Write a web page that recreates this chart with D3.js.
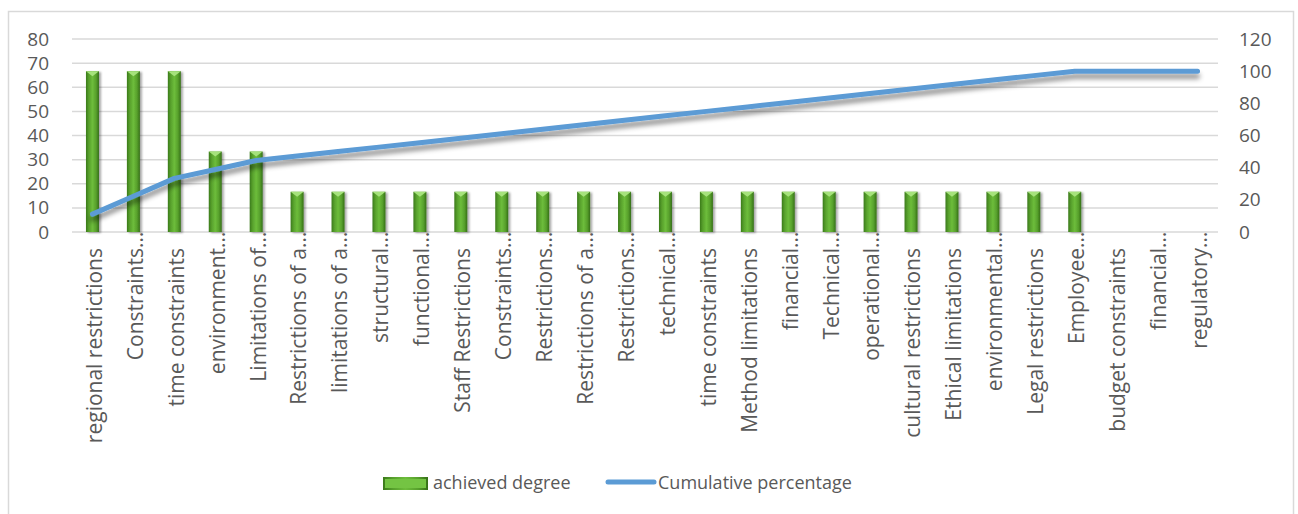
<!DOCTYPE html>
<html>
<head>
<meta charset="utf-8">
<script src="https://cdnjs.cloudflare.com/ajax/libs/d3/7.8.5/d3.min.js"></script>
<style>
  body { margin: 0; background: #ffffff; }
  svg text { font-family: "Open Sans", "DejaVu Sans", sans-serif; fill: #595959; }
</style>
</head>
<body>
<div id="chart"></div>
<script>
// categories as they appear on the axis (Excel cut the long ones with "…")
var categories = [
  "regional restrictions", "Constraints…", "time constraints", "environment…",
  "Limitations of…", "Restrictions of a…", "limitations of a…", "structural…",
  "functional…", "Staff Restrictions", "Constraints…", "Restrictions…",
  "Restrictions of a…", "Restrictions…", "technical…", "time constraints",
  "Method limitations", "financial…", "Technical…", "operational…",
  "cultural restrictions", "Ethical limitations", "environmental…",
  "Legal restrictions", "Employee…", "budget constraints", "financial…",
  "regulatory…"
];
var achieved = [
  66.67, 66.67, 66.67, 33.33, 33.33, 16.67, 16.67, 16.67, 16.67, 16.67,
  16.67, 16.67, 16.67, 16.67, 16.67, 16.67, 16.67, 16.67, 16.67, 16.67,
  16.67, 16.67, 16.67, 16.67, 16.67, 0, 0, 0
];
var cumulative = [
  11.11, 22.22, 33.33, 38.89, 44.44, 47.22, 50.00, 52.78, 55.56, 58.33,
  61.11, 63.89, 66.67, 69.44, 72.22, 75.00, 77.78, 80.56, 83.33, 86.11,
  88.89, 91.67, 94.44, 97.22, 100, 100, 100, 100
];
var leftTicks = [0, 10, 20, 30, 40, 50, 60, 70, 80];
var rightTicks = [0, 20, 40, 60, 80, 100, 120];
var seriesNames = ["achieved degree", "Cumulative percentage"];

var W = 1298, H = 514;
var plot = { left: 72, right: 1218, top: 39, bottom: 232 };

var svg = d3.select("#chart").append("svg")
    .attr("width", W).attr("height", H);

var defs = svg.append("defs");
var g1 = defs.append("linearGradient").attr("id", "barGrad")
    .attr("x1", "0%").attr("x2", "100%").attr("y1", "0%").attr("y2", "0%");
[["0%", "#3b7a1b"], ["22%", "#57a02c"], ["50%", "#6dbd3b"], ["78%", "#57a02c"], ["100%", "#356f17"]]
  .forEach(function (s) { g1.append("stop").attr("offset", s[0]).attr("stop-color", s[1]); });

var fBar = defs.append("filter").attr("id", "barShadow")
    .attr("x", "-50%").attr("y", "-10%").attr("width", "200%").attr("height", "130%");
fBar.append("feDropShadow").attr("dx", 2).attr("dy", 1).attr("stdDeviation", 1.2)
    .attr("flood-color", "#000").attr("flood-opacity", 0.35);

var fLine = defs.append("filter").attr("id", "lineShadow")
    .attr("x", "-5%").attr("y", "-20%").attr("width", "110%").attr("height", "150%");
fLine.append("feDropShadow").attr("dx", 0).attr("dy", 5).attr("stdDeviation", 2.5)
    .attr("flood-color", "#000").attr("flood-opacity", 0.45);

// chart border
svg.append("rect").attr("x", 8.5).attr("y", 11.5).attr("width", 1285).attr("height", 520)
    .attr("fill", "#fff").attr("stroke", "#d9d9d9").attr("stroke-width", 1.5);

var x = d3.scaleBand().domain(d3.range(categories.length))
    .range([plot.left, plot.right]).paddingInner(0).paddingOuter(0);
var y = d3.scaleLinear().domain([0, 80]).range([plot.bottom, plot.top]);
var y2 = d3.scaleLinear().domain([0, 120]).range([plot.bottom, plot.top]);

// gridlines
svg.append("g").selectAll("line").data(leftTicks).join("line")
    .attr("x1", plot.left).attr("x2", plot.right)
    .attr("y1", function (d) { return y(d); }).attr("y2", function (d) { return y(d); })
    .attr("stroke", "#d9d9d9").attr("stroke-width", 1.5);

// left axis
var yAxis = svg.append("g").attr("transform", "translate(49,0)")
    .call(d3.axisLeft(y).tickValues(leftTicks).tickSize(0).tickPadding(0));
yAxis.select(".domain").remove();
yAxis.selectAll("text").style("font-size", "19px").attr("fill", "#595959")
    .style("font-family", "'Open Sans', sans-serif");

// right axis
var y2Axis = svg.append("g").attr("transform", "translate(1239,0)")
    .call(d3.axisRight(y2).tickValues(rightTicks).tickSize(0).tickPadding(0));
y2Axis.select(".domain").remove();
y2Axis.selectAll("text").style("font-size", "19px").attr("fill", "#595959")
    .style("font-family", "'Open Sans', sans-serif");

// bars
var bw = 13;
var bars = svg.append("g").selectAll("g.bar").data(achieved).join("g")
    .attr("class", "bar").attr("filter", "url(#barShadow)");
bars.filter(function (d) { return d > 0; }).each(function (d, i) {
  var g = d3.select(this);
  var cx = x(i) + x.bandwidth() / 2, x0 = cx - bw / 2, top = y(d);
  g.append("rect").attr("x", x0).attr("y", top).attr("width", bw)
      .attr("height", y(0) - top).attr("fill", "url(#barGrad)");
  g.append("path")
      .attr("d", "M" + x0 + "," + top + "L" + (x0 + bw) + "," + top + "L" + cx + "," + (top + 5) + "Z")
      .attr("fill", "#a6e27c");
});

// cumulative line
var line = d3.line()
    .x(function (d, i) { return x(i) + x.bandwidth() / 2; })
    .y(function (d) { return y2(d); });
svg.append("path").datum(cumulative).attr("d", line)
    .attr("fill", "none").attr("stroke", "#5b9bd5").attr("stroke-width", 5)
    .attr("stroke-linecap", "round").attr("stroke-linejoin", "round")
    .attr("filter", "url(#lineShadow)");

// category labels, rotated
var labelTop = 248;
var lab = svg.append("g").selectAll("g").data(categories).join("g")
    .attr("transform", function (d, i) {
      return "translate(" + (x(i) + x.bandwidth() / 2 + 2) + "," + labelTop + ") rotate(-90)";
    });
lab.append("text").attr("text-anchor", "end").attr("dy", "0.35em")
    .style("font-size", "21px")
    .text(function (d) { return d.replace("…", ""); });
lab.filter(function (d) { return d.indexOf("…") >= 0; })
    .append("text").attr("text-anchor", "start").attr("dy", "0.35em")
    .style("font-size", "21px").text("…");

// legend
var leg = svg.append("g");
leg.append("rect").attr("x", 383).attr("y", 477).attr("width", 45).attr("height", 13)
    .attr("fill", "url(#barGrad)");
leg.append("rect").attr("x", 385).attr("y", 479).attr("width", 41).attr("height", 9)
    .attr("fill", "#74c443");
leg.append("text").attr("x", 433).attr("y", 483).attr("dy", "0.35em")
    .style("font-size", "18px").text(seriesNames[0]);
leg.append("line").attr("x1", 608).attr("x2", 654).attr("y1", 482).attr("y2", 482)
    .attr("stroke", "#5b9bd5").attr("stroke-width", 5).attr("stroke-linecap", "round");
leg.append("text").attr("x", 658).attr("y", 483).attr("dy", "0.35em")
    .style("font-size", "18px").text(seriesNames[1]);
</script>
</body>
</html>
